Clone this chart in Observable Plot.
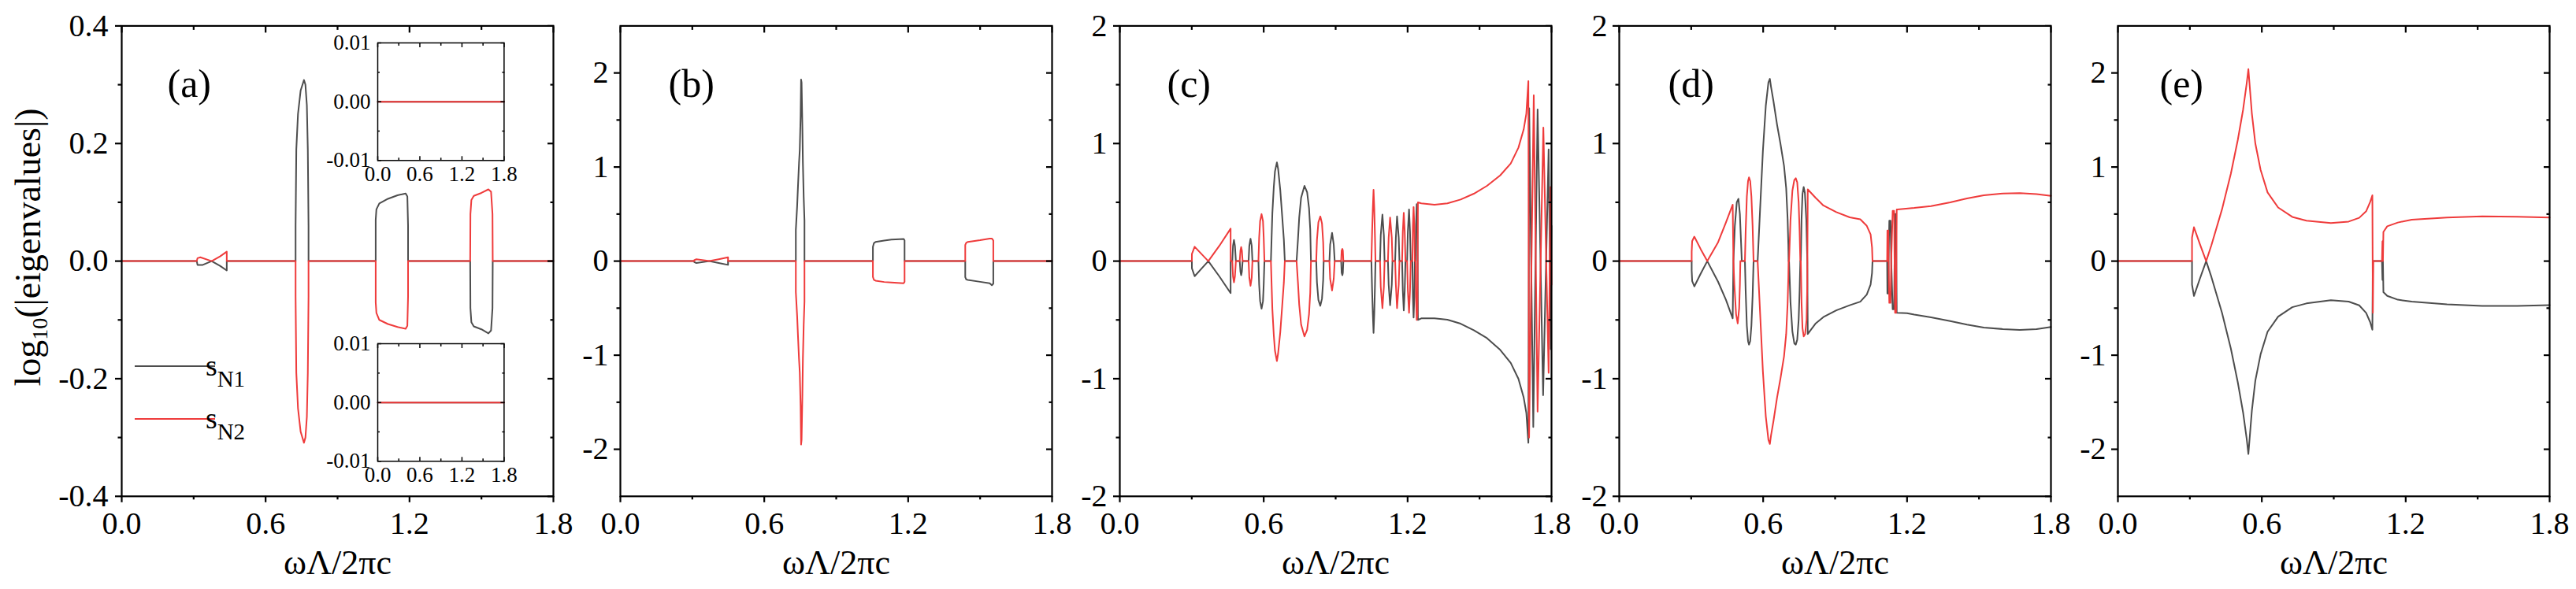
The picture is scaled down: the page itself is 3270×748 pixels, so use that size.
<!DOCTYPE html>
<html><head><meta charset="utf-8">
<script src="https://cdn.jsdelivr.net/npm/d3@7"></script>
<script src="https://cdn.jsdelivr.net/npm/@observablehq/plot@0.6"></script>
<style>
body{margin:0;background:#fff;}
#fig{position:relative;width:3270px;height:748px;overflow:hidden;background:#fff;}
#fig svg{position:absolute;top:0;overflow:visible;max-width:none;background:transparent;}
</style></head><body><div id="fig"></div>
<script>
// ---------- tick values ----------
const xTicks = [0, 0.6, 1.2, 1.8];
const xMinor = [0.3, 0.9, 1.5];
const yTicksA = [-0.4, -0.2, 0, 0.2, 0.4];
const yMinorA = [-0.3, -0.1, 0.1, 0.3];
const yTicksBE = [-2, -1, 0, 1, 2];
const yMinorBE = [-1.5, -0.5, 0.5, 1.5];
const yTicksCD = [-2, -1, 0, 1, 2];
const yMinorCD = [-1.5, -0.5, 0.5, 1.5];
const insetYTicks = [-0.01, 0, 0.01];
const insetYMinor = [-0.005, 0.005];
const panelLabels = ["(a)", "(b)", "(c)", "(d)", "(e)"];
const seriesNames = ["s", "s"];
const seriesSubs = ["N1", "N2"];
const xTitle = "ωΛ/2πc";

// ---------- series: [ωΛ/2πc, log10(|eigenvalue|)] ----------
const aN1 = [[0,0],[0.313,0],[0.316,-0.0064],[0.338,-0.0064],[0.375,0],[0.41,-0.008],[0.438,-0.016],[0.438,0],
 [0.725,0],[0.725,0.06],[0.728,0.19],[0.735,0.25],[0.746,0.29],[0.760,0.308],[0.766,0.30],[0.772,0.265],[0.776,0.19],[0.779,0.06],[0.779,0],
 [1.059,0],[1.059,0.07],[1.062,0.088],[1.074,0.098],[1.110,0.106],[1.150,0.112],[1.184,0.115],[1.191,0.11],[1.194,0.06],[1.194,0],
 [1.453,0],[1.454,-0.08],[1.458,-0.104],[1.468,-0.111],[1.50,-0.116],[1.529,-0.123],[1.540,-0.118],[1.546,-0.08],[1.547,0],[1.8,0]];
const aN2 = [[0,0],[0.313,0],[0.316,0.005],[0.328,0.0064],[0.375,0],[0.41,0.008],[0.438,0.016],[0.438,0],
 [0.725,0],[0.725,-0.06],[0.728,-0.19],[0.735,-0.25],[0.746,-0.29],[0.760,-0.309],[0.766,-0.30],[0.772,-0.265],[0.776,-0.19],[0.779,-0.06],[0.779,0],
 [1.059,0],[1.059,-0.07],[1.062,-0.088],[1.074,-0.1],[1.110,-0.107],[1.150,-0.112],[1.184,-0.115],[1.191,-0.11],[1.194,-0.06],[1.194,0],
 [1.453,0],[1.454,0.08],[1.458,0.104],[1.468,0.111],[1.50,0.116],[1.529,0.122],[1.540,0.118],[1.546,0.08],[1.547,0],[1.8,0]];

const bN1 = [[0,0],[0.308,0],[0.308,-0.01],[0.317,-0.02],[0.371,0],[0.41,-0.02],[0.449,-0.04],[0.449,0],
 [0.7316,0],[0.7316,0.33],[0.7372,0.59],[0.7405,0.79],[0.7449,1.04],[0.748,1.18],[0.7515,1.54],[0.7535,1.93],[0.7556,1.90],[0.7589,1.43],[0.7611,1.04],[0.7644,0.68],[0.7677,0.43],[0.7677,0],
 [1.053,0],[1.053,0.152],[1.057,0.19],[1.064,0.204],[1.10,0.218],[1.13,0.228],[1.181,0.236],[1.185,0.22],[1.185,0],
 [1.438,0],[1.438,-0.17],[1.442,-0.195],[1.449,-0.2],[1.50,-0.22],[1.540,-0.236],[1.549,-0.256],[1.555,-0.24],[1.555,0],[1.8,0]];
const bN2 = [[0,0],[0.308,0],[0.308,0.01],[0.317,0.02],[0.371,0],[0.41,0.02],[0.449,0.04],[0.449,0],
 [0.7316,0],[0.7316,-0.33],[0.7372,-0.59],[0.7405,-0.79],[0.7449,-1.04],[0.748,-1.18],[0.7515,-1.54],[0.7535,-1.95],[0.7556,-1.90],[0.7589,-1.43],[0.7611,-1.04],[0.7644,-0.68],[0.7677,-0.43],[0.7677,0],
 [1.053,0],[1.053,-0.168],[1.057,-0.198],[1.064,-0.208],[1.10,-0.222],[1.13,-0.228],[1.181,-0.236],[1.185,-0.22],[1.185,0],
 [1.438,0],[1.438,0.172],[1.442,0.195],[1.449,0.204],[1.50,0.222],[1.540,0.24],[1.549,0.24],[1.555,0.22],[1.555,0],[1.8,0]];

const cN1 = [[0,0],[0.3005,0],[0.3005,-0.06],[0.312,-0.128],[0.34,-0.065],[0.369,0],[0.415,-0.13],[0.462,-0.272],[0.462,0],
 [0.469,0],[0.472,0.13],[0.476,0.18],[0.480,0.13],[0.484,0],
 [0.500,0],[0.503,-0.09],[0.506,-0.12],[0.509,-0.09],[0.512,0],
 [0.537,0],[0.540,0.13],[0.545,0.19],[0.550,0.13],[0.553,0],
 [0.578,0],[0.581,-0.2],[0.585,-0.34],[0.591,-0.405],[0.597,-0.34],[0.600,-0.2],[0.603,0],
 [0.630,0],[0.633,0.205],[0.636,0.406],[0.642,0.629],[0.647,0.763],[0.655,0.84],[0.660,0.786],[0.669,0.606],[0.677,0.383],[0.684,0.183],[0.688,0],
 [0.737,0],[0.743,0.19],[0.748,0.37],[0.756,0.54],[0.770,0.64],[0.781,0.585],[0.789,0.45],[0.794,0.27],[0.797,0],
 [0.819,0],[0.822,-0.18],[0.828,-0.33],[0.836,-0.38],[0.843,-0.32],[0.848,-0.16],[0.850,0],
 [0.874,0],[0.877,0.14],[0.885,0.24],[0.892,0.14],[0.896,0],
 [0.923,0],[0.925,-0.1],[0.928,-0.12],[0.930,-0.1],[0.932,0],
 [1.049,0],[1.052,-0.25],[1.055,-0.45],[1.058,-0.61],[1.061,-0.45],[1.064,-0.2],[1.066,0],
 [1.085,0],[1.088,0.22],[1.095,0.395],[1.101,0.22],[1.104,0],
 [1.118,0],[1.121,-0.2],[1.127,-0.375],[1.134,-0.2],[1.137,0],
 [1.148,0],[1.151,0.2],[1.156,0.38],[1.163,0.2],[1.166,0],
 [1.177,0],[1.180,-0.25],[1.184,-0.42],[1.188,-0.25],[1.191,0],
 [1.198,0],[1.201,0.25],[1.206,0.44],[1.210,0.25],[1.213,0],
 [1.220,0],[1.222,-0.3],[1.225,-0.48],[1.228,-0.3],[1.230,0],
 [1.233,0],[1.235,0.3],[1.238,0.485],[1.241,0.35],[1.243,-0.50],
 [1.257,-0.487],[1.312,-0.487],[1.366,-0.498],[1.421,-0.532],[1.476,-0.588],[1.531,-0.655],[1.586,-0.755],[1.630,-0.866],[1.662,-1.0],[1.684,-1.16],[1.695,-1.29],[1.7035,-1.545],
 [1.707,1.30],[1.724,-1.41],[1.742,1.29],[1.765,-1.14],[1.788,0.95],[1.797,-0.75],[1.800,0.3]];
const cN2 = [[0,0],[0.3005,0],[0.3005,0.06],[0.312,0.122],[0.34,0.062],[0.369,0],[0.415,0.13],[0.462,0.276],[0.462,0],
 [0.469,0],[0.472,-0.13],[0.476,-0.18],[0.480,-0.13],[0.484,0],
 [0.500,0],[0.503,0.09],[0.506,0.12],[0.509,0.09],[0.512,0],
 [0.537,0],[0.540,-0.14],[0.545,-0.21],[0.550,-0.14],[0.553,0],
 [0.578,0],[0.581,0.2],[0.585,0.34],[0.591,0.40],[0.597,0.34],[0.600,0.2],[0.603,0],
 [0.630,0],[0.633,-0.205],[0.636,-0.406],[0.642,-0.629],[0.647,-0.763],[0.655,-0.85],[0.660,-0.786],[0.669,-0.606],[0.677,-0.383],[0.684,-0.183],[0.688,0],
 [0.737,0],[0.743,-0.19],[0.748,-0.37],[0.756,-0.54],[0.770,-0.64],[0.781,-0.585],[0.789,-0.45],[0.794,-0.27],[0.797,0],
 [0.819,0],[0.822,0.18],[0.828,0.33],[0.836,0.38],[0.843,0.32],[0.848,0.16],[0.850,0],
 [0.874,0],[0.877,-0.15],[0.885,-0.25],[0.892,-0.15],[0.896,0],
 [0.923,0],[0.925,0.09],[0.928,0.104],[0.930,0.09],[0.932,0],
 [1.049,0],[1.052,0.25],[1.055,0.45],[1.058,0.607],[1.061,0.45],[1.064,0.2],[1.066,0],
 [1.085,0],[1.088,-0.22],[1.095,-0.40],[1.101,-0.22],[1.104,0],
 [1.118,0],[1.121,0.2],[1.127,0.37],[1.134,0.2],[1.137,0],
 [1.148,0],[1.151,-0.2],[1.156,-0.40],[1.163,-0.2],[1.166,0],
 [1.177,0],[1.180,0.25],[1.184,0.41],[1.188,0.25],[1.191,0],
 [1.198,0],[1.201,-0.25],[1.206,-0.44],[1.210,-0.25],[1.213,0],
 [1.220,0],[1.222,0.3],[1.225,0.46],[1.228,0.3],[1.230,0],
 [1.233,0],[1.235,-0.3],[1.238,-0.50],[1.241,-0.45],[1.243,0.50],
 [1.257,0.491],[1.312,0.48],[1.366,0.491],[1.421,0.524],[1.476,0.573],[1.531,0.640],[1.586,0.729],[1.630,0.830],[1.662,0.964],[1.684,1.12],[1.695,1.254],[1.7035,1.53],
 [1.7065,-1.50],[1.726,1.41],[1.742,-1.28],[1.766,1.135],[1.788,-0.95],[1.796,0.63],[1.800,-0.2]];

const dN1 = [[0,0],[0.302,0],[0.302,-0.08],[0.304,-0.17],[0.313,-0.215],[0.34,-0.105],[0.367,0],[0.412,-0.175],[0.445,-0.33],[0.473,-0.487],[0.476,0],
 [0.482,0.3],[0.490,0.5],[0.497,0.53],[0.503,0.4],[0.508,0.15],[0.511,0],
 [0.524,0],[0.527,-0.25],[0.532,-0.55],[0.537,-0.68],[0.541,-0.71],[0.546,-0.68],[0.551,-0.55],[0.556,-0.3],[0.560,0],
 [0.577,0],[0.587,0.43],[0.599,0.94],[0.611,1.32],[0.622,1.52],[0.628,1.55],[0.633,1.48],[0.643,1.36],[0.658,1.16],[0.672,1.0],[0.687,0.81],[0.696,0.62],[0.702,0.36],[0.705,0.14],[0.706,0],
 [0.708,0],[0.714,-0.35],[0.722,-0.60],[0.730,-0.70],[0.736,-0.71],[0.742,-0.67],[0.748,-0.5],[0.752,-0.25],[0.755,0],
 [0.757,0],[0.760,0.35],[0.764,0.57],[0.769,0.63],[0.774,0.58],[0.780,0.35],[0.784,0],[0.786,-0.62],
 [0.818,-0.532],[0.851,-0.476],[0.905,-0.419],[0.961,-0.375],[1.005,-0.345],[1.032,-0.285],[1.048,-0.2],[1.054,-0.1],[1.056,0],
 [1.117,0],[1.118,-0.275],[1.122,-0.275],[1.123,0],[1.126,0.343],[1.131,0.343],[1.134,0],[1.140,-0.41],[1.146,-0.41],[1.150,0.40],[1.154,0.40],[1.157,-0.44],[1.160,-0.44],
 [1.20,-0.443],[1.23,-0.455],[1.30,-0.478],[1.38,-0.51],[1.45,-0.54],[1.52,-0.565],[1.60,-0.578],[1.67,-0.585],[1.74,-0.578],[1.80,-0.56]];
const dN2 = [[0,0],[0.302,0],[0.302,0.08],[0.304,0.17],[0.313,0.208],[0.34,0.10],[0.367,0],[0.412,0.16],[0.445,0.33],[0.473,0.48],[0.476,0],
 [0.480,-0.2],[0.487,-0.45],[0.494,-0.53],[0.500,-0.4],[0.503,-0.2],[0.505,0],
 [0.524,0],[0.527,0.25],[0.532,0.55],[0.537,0.68],[0.541,0.712],[0.546,0.68],[0.551,0.55],[0.556,0.3],[0.560,0],
 [0.577,0],[0.587,-0.43],[0.599,-0.94],[0.611,-1.32],[0.622,-1.52],[0.628,-1.555],[0.633,-1.48],[0.643,-1.36],[0.658,-1.16],[0.672,-1.0],[0.687,-0.81],[0.696,-0.62],[0.702,-0.36],[0.705,-0.14],[0.706,0],
 [0.708,0],[0.714,0.35],[0.722,0.60],[0.730,0.69],[0.736,0.705],[0.742,0.67],[0.748,0.5],[0.752,0.25],[0.755,0],
 [0.757,0],[0.760,-0.35],[0.764,-0.57],[0.769,-0.64],[0.775,-0.62],[0.781,-0.5],[0.784,-0.2],[0.786,0.61],
 [0.818,0.54],[0.851,0.473],[0.905,0.417],[0.961,0.372],[1.005,0.355],[1.032,0.30],[1.048,0.228],[1.054,0.117],[1.056,0],
 [1.117,0],[1.118,0.26],[1.122,0.26],[1.123,0],[1.126,-0.355],[1.131,-0.355],[1.134,0],[1.140,0.427],[1.146,0.427],[1.150,-0.44],[1.154,-0.44],[1.157,0.44],[1.160,0.44],
 [1.23,0.452],[1.30,0.468],[1.38,0.50],[1.45,0.533],[1.52,0.56],[1.60,0.575],[1.67,0.578],[1.74,0.57],[1.80,0.555]];

const eN1 = [[0,0],[0.309,0],[0.309,-0.25],[0.317,-0.37],[0.342,-0.185],[0.368,0],[0.390,-0.17],[0.434,-0.55],[0.471,-0.93],[0.500,-1.29],[0.522,-1.61],[0.537,-1.89],[0.544,-2.05],
 [0.5585,-1.59],[0.573,-1.27],[0.595,-0.99],[0.624,-0.75],[0.668,-0.59],[0.727,-0.49],[0.786,-0.45],[0.888,-0.416],[0.962,-0.43],[1.006,-0.47],[1.035,-0.55],[1.052,-0.65],[1.061,-0.73],[1.063,0],
 [1.101,0],[1.103,-0.2],[1.105,0],[1.107,-0.33],[1.123,-0.37],[1.167,-0.41],[1.225,-0.43],[1.372,-0.46],[1.519,-0.476],[1.665,-0.476],[1.8,-0.468]];
const eN2 = [[0,0],[0.309,0],[0.309,0.25],[0.317,0.36],[0.342,0.18],[0.368,0],[0.390,0.17],[0.434,0.55],[0.471,0.93],[0.500,1.29],[0.522,1.61],[0.537,1.89],[0.544,2.04],
 [0.5585,1.57],[0.573,1.25],[0.595,0.97],[0.624,0.73],[0.668,0.57],[0.727,0.47],[0.786,0.43],[0.888,0.404],[0.962,0.42],[1.006,0.46],[1.035,0.53],[1.052,0.63],[1.061,0.70],[1.063,-0.55],[1.065,0],
 [1.101,0],[1.103,0.21],[1.105,0],[1.107,0.31],[1.123,0.37],[1.167,0.41],[1.225,0.44],[1.372,0.464],[1.519,0.476],[1.665,0.472],[1.8,0.464]];

const insetN1 = [[0,0],[1.8,0]];
const insetN2 = [[0,0],[1.8,0]];

// ---------- style ----------
const FONT = "'Liberation Serif','Times New Roman',Times,serif";
const BLACK = "#4d4d4d", RED = "#ef3b3b";
const H = 748, TOP = 32.4, BOTTOM = 629.8, PW = 548;
const fig = document.getElementById("fig");
const X = d => d[0], Y = d => d[1];
const blank = () => "";

function mainAxes(yTicks, yMinor, yFmt, yPad) {
  const sw = 2.2;
  return [
    Plot.axisX({ticks: xTicks, tickSize: 8, tickFormat: blank, strokeWidth: sw, label: null}),
    Plot.axisX({ticks: xMinor, tickSize: 4.5, tickFormat: blank, strokeWidth: sw, label: null}),
    Plot.axisX({anchor: "top", ticks: xTicks, tickSize: -8, tickFormat: blank, strokeWidth: sw, label: null}),
    Plot.axisX({anchor: "top", ticks: xMinor, tickSize: -4.5, tickFormat: blank, strokeWidth: sw, label: null}),
    Plot.axisX({ticks: xTicks, tickSize: 0, tickPadding: 19.3, tickFormat: d => d.toFixed(1), fontSize: 40, fill: "black", label: null}),
    Plot.axisY({ticks: yTicks, tickSize: 8, tickFormat: blank, strokeWidth: sw, label: null}),
    Plot.axisY({ticks: yMinor, tickSize: 4.5, tickFormat: blank, strokeWidth: sw, label: null}),
    Plot.axisY({anchor: "right", ticks: yTicks, tickSize: -8, tickFormat: blank, strokeWidth: sw, label: null}),
    Plot.axisY({anchor: "right", ticks: yMinor, tickSize: -4.5, tickFormat: blank, strokeWidth: sw, label: null}),
    Plot.axisY({ticks: yTicks, tickSize: 0, tickPadding: yPad, tickFormat: yFmt, fontSize: 40, fill: "black", label: null})
  ];
}

function panel(cfg) {
  const mL = cfg.mLeft, mR = 40;
  const svg = Plot.plot({
    width: mL + PW + mR, height: H,
    marginLeft: mL, marginRight: mR, marginTop: TOP, marginBottom: H - BOTTOM,
    x: {domain: [0, 1.8]}, y: {domain: cfg.yDomain},
    style: {fontFamily: FONT, background: "transparent", color: "black"},
    marks: [
      Plot.line(cfg.n1, {x: X, y: Y, stroke: BLACK, strokeWidth: 2}),
      Plot.line(cfg.n2, {x: X, y: Y, stroke: RED, strokeWidth: 2}),
      Plot.frame({stroke: "black", strokeWidth: 2.2}),
      ...mainAxes(cfg.yTicks, cfg.yMinor, cfg.yFmt, cfg.yPad),
      Plot.text([cfg.label], {frameAnchor: "top-left", dx: cfg.labelDx, dy: 89.6, lineAnchor: "bottom", textAnchor: "start", fontSize: 50, fill: "black"}),
      Plot.text([xTitle], {frameAnchor: "bottom", dy: 98.2, lineAnchor: "bottom", fontSize: 44, fill: "black"})
    ]
  });
  svg.style.left = (cfg.left - mL) + "px";
  fig.appendChild(svg);
  return svg;
}

function inset(left, top, w, h) {
  const mL = 80, mR = 20, mT = 10, mB = 40;
  const sw = 1.5;
  const svg = Plot.plot({
    width: mL + w + mR, height: mT + h + mB,
    marginLeft: mL, marginRight: mR, marginTop: mT, marginBottom: mB,
    x: {domain: [0, 1.8]}, y: {domain: [-0.01, 0.01]},
    style: {fontFamily: FONT, background: "transparent", color: "black"},
    marks: [
      Plot.line(insetN1, {x: X, y: Y, stroke: BLACK, strokeWidth: 2}),
      Plot.line(insetN2, {x: X, y: Y, stroke: RED, strokeWidth: 2}),
      Plot.frame({stroke: "black", strokeWidth: sw}),
      Plot.axisX({ticks: xTicks, tickSize: -5, tickFormat: blank, strokeWidth: sw, label: null}),
      Plot.axisX({ticks: xMinor, tickSize: -3, tickFormat: blank, strokeWidth: sw, label: null}),
      Plot.axisX({anchor: "top", ticks: xTicks, tickSize: -5, tickFormat: blank, strokeWidth: sw, label: null}),
      Plot.axisX({anchor: "top", ticks: xMinor, tickSize: -3, tickFormat: blank, strokeWidth: sw, label: null}),
      Plot.axisY({ticks: insetYTicks, tickSize: -5, tickFormat: blank, strokeWidth: sw, label: null}),
      Plot.axisY({ticks: insetYMinor, tickSize: -3, tickFormat: blank, strokeWidth: sw, label: null}),
      Plot.axisY({anchor: "right", ticks: insetYTicks, tickSize: -5, tickFormat: blank, strokeWidth: sw, label: null}),
      Plot.axisY({anchor: "right", ticks: insetYMinor, tickSize: -3, tickFormat: blank, strokeWidth: sw, label: null}),
      Plot.axisX({ticks: xTicks, tickSize: 0, tickPadding: 7, tickFormat: d => d.toFixed(1), fontSize: 27, fill: "black", label: null}),
      Plot.axisY({ticks: insetYTicks, tickSize: 0, tickPadding: 9, tickFormat: d => d.toFixed(2), fontSize: 27, fill: "black", label: null})
    ]
  });
  svg.style.left = (left - mL) + "px";
  svg.style.top = (top - mT) + "px";
  fig.appendChild(svg);
}

const f1 = d => d.toFixed(1), f0 = d => String(d);
const svgA = panel({left: 154, mLeft: 154, yDomain: [-0.4, 0.4], yTicks: yTicksA, yMinor: yMinorA, yFmt: f1, yPad: 17, n1: aN1, n2: aN2, label: panelLabels[0], labelDx: 58});
panel({left: 787, mLeft: 100, yDomain: [-2.5, 2.5], yTicks: yTicksBE, yMinor: yMinorBE, yFmt: f0, yPad: 15, n1: bN1, n2: bN2, label: panelLabels[1], labelDx: 61});
panel({left: 1420.5, mLeft: 100, yDomain: [-2, 2], yTicks: yTicksCD, yMinor: yMinorCD, yFmt: f0, yPad: 16, n1: cN1, n2: cN2, label: panelLabels[2], labelDx: 60});
panel({left: 2054.6, mLeft: 100, yDomain: [-2, 2], yTicks: yTicksCD, yMinor: yMinorCD, yFmt: f0, yPad: 15, n1: dN1, n2: dN2, label: panelLabels[3], labelDx: 62});
panel({left: 2688, mLeft: 100, yDomain: [-2.5, 2.5], yTicks: yTicksBE, yMinor: yMinorBE, yFmt: f0, yPad: 15, n1: eN1, n2: eN2, label: panelLabels[4], labelDx: 53});

inset(478.6, 54.4, 160.4, 149.3);
inset(478.6, 436, 160.4, 149.3);

// y-axis title and legend of panel (a)
const sa = d3.select(svgA);
const yt = sa.append("text").attr("transform", "translate(51,314) rotate(-90)")
  .attr("text-anchor", "middle").attr("font-family", FONT).attr("font-size", 46).attr("fill", "black");
yt.append("tspan").text("log");
yt.append("tspan").attr("dy", 9).attr("font-size", 28).text("10");
yt.append("tspan").attr("dy", -9).text("(|eigenvalues|)");

[[465, BLACK], [532, RED]].forEach(([yy, col], i) => {
  sa.append("line").attr("x1", 171).attr("x2", 273).attr("y1", yy).attr("y2", yy)
    .attr("stroke", col).attr("stroke-width", 2);
  const t = sa.append("text").attr("x", 286).attr("y", yy + 12).attr("font-family", FONT)
    .attr("font-size", 38).attr("fill", "black");
  t.append("tspan").text(seriesNames[i]);
  t.append("tspan").attr("dy", 14).attr("font-size", 29).text(seriesSubs[i]);
});
</script></body></html>
